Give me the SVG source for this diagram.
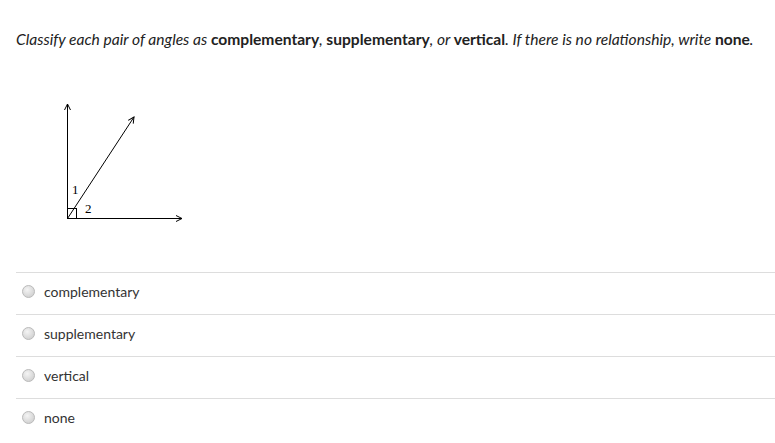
<svg xmlns="http://www.w3.org/2000/svg" width="775" height="443" viewBox="0 0 775 443">
<style>
.q{font-family:Lato,"Open Sans","Liberation Sans",sans-serif;font-size:15.6px;fill:#222}
.opt{font-family:Lato,"Open Sans","Liberation Sans",sans-serif;font-size:14px;fill:#333}
.lbl{font-family:"Liberation Serif","Times New Roman",serif;font-size:13px;fill:#000}
.ln{stroke:#000;stroke-width:1;fill:none}
.sep{stroke:#ddd;stroke-width:1}
.radio{fill:url(#rg);stroke:#bbb;stroke-width:1}
</style>
<defs>
<radialGradient id="rg" cx="0.4" cy="0.35" r="0.7">
<stop offset="0" stop-color="#f4f4f4"/>
<stop offset="1" stop-color="#cfcfcf"/>
</radialGradient>
<marker id="ah" markerWidth="8" markerHeight="8" refX="7" refY="4" orient="auto" markerUnits="userSpaceOnUse">
<path d="M1,1 L7,4 L1,7" fill="none" stroke="#000" stroke-width="1"/>
</marker>
</defs>
<rect width="775" height="443" fill="#fff"/>
<text class="q" x="16" y="45"><tspan font-style="italic">Classify each pair of angles as </tspan><tspan font-weight="bold">complementary</tspan><tspan font-style="italic">, </tspan><tspan font-weight="bold">supplementary</tspan><tspan font-style="italic">, or </tspan><tspan font-weight="bold">vertical</tspan><tspan font-style="italic">. If there is no relationship, write </tspan><tspan font-weight="bold">none</tspan><tspan font-style="italic">.</tspan></text>
<g id="figure">
<g id="connectors">
<line class="ln" x1="67.5" y1="218.5" x2="67.5" y2="104" marker-end="url(#ah)"/>
<line class="ln" x1="67.5" y1="218.5" x2="182" y2="218.5" marker-end="url(#ah)"/>
<line class="ln" x1="67.5" y1="218.5" x2="134" y2="117" marker-end="url(#ah)"/>
<rect class="ln" x="67.5" y="208.5" width="9" height="10"/>
</g>
<text class="lbl" x="72" y="194">1</text>
<text class="lbl" x="85" y="213">2</text>
</g>
<line class="sep" x1="16" y1="272.5" x2="775" y2="272.5"/>
<line class="sep" x1="16" y1="314.5" x2="775" y2="314.5"/>
<line class="sep" x1="16" y1="356.5" x2="775" y2="356.5"/>
<line class="sep" x1="16" y1="398.5" x2="775" y2="398.5"/>
<g id="opt1"><circle class="radio" cx="28.5" cy="291.5" r="6"/><text class="opt" x="44" y="297">complementary</text></g>
<g id="opt2"><circle class="radio" cx="28.5" cy="333.5" r="6"/><text class="opt" x="44" y="339">supplementary</text></g>
<g id="opt3"><circle class="radio" cx="28.5" cy="375.5" r="6"/><text class="opt" x="44" y="381">vertical</text></g>
<g id="opt4"><circle class="radio" cx="28.5" cy="417.5" r="6"/><text class="opt" x="44" y="423">none</text></g>
</svg>
